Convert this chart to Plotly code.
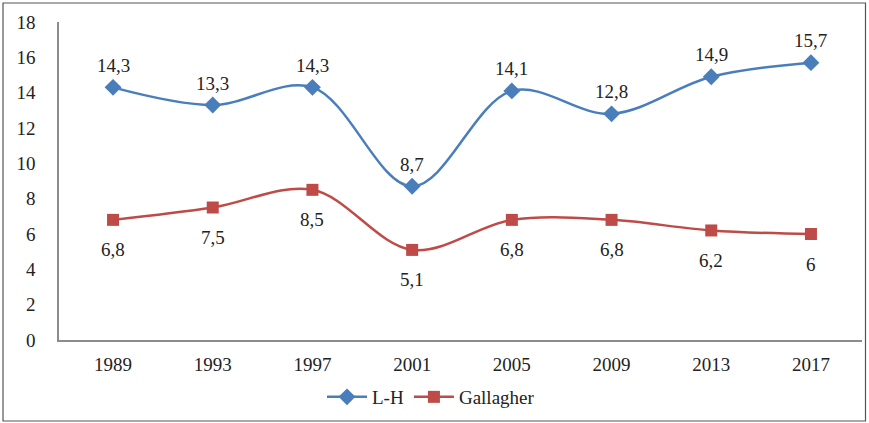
import plotly.graph_objs as go

# Данные
years = ['1989', '1993', '1997', '2001', '2005', '2009', '2013', '2017']
lh = [14.3, 13.3, 14.3, 8.7, 14.1, 12.8, 14.9, 15.7]
gallagher = [6.8, 7.5, 8.5, 5.1, 6.8, 6.8, 6.2, 6]
y_ticks = [0, 2, 4, 6, 8, 10, 12, 14, 16, 18]

FONT = 'Liberation Serif'
FS = 19
BLUE = '#4A7EBB'
RED = '#BE4B48'


def fmt(v):
    return ('%g' % v).replace('.', ',')


W, H = 869, 423
ml, mr, mt, mb = 59, 7, 22, 83
pw, ph = W - ml - mr, H - mt - mb

fig = go.Figure()
fig.add_trace(go.Scatter(
    x=years, y=lh, name='L-H', mode='lines+markers',
    line=dict(color=BLUE, width=2.5, shape='spline', smoothing=1),
    marker=dict(symbol='diamond', size=13, color=BLUE)
))
fig.add_trace(go.Scatter(
    x=years, y=gallagher, name='Gallagher', mode='lines+markers',
    line=dict(color=RED, width=2.5, shape='spline', smoothing=1),
    marker=dict(symbol='square', size=12, color=RED)
))

# Подписи значений (x — номер категории)
for i, v in enumerate(lh):
    fig.add_annotation(x=i, y=v, text=fmt(v), showarrow=False, yshift=22,
                       font=dict(family=FONT, size=FS, color='#222'))
for i, v in enumerate(gallagher):
    fig.add_annotation(x=i, y=v, text=fmt(v), showarrow=False, yshift=-30,
                       font=dict(family=FONT, size=FS, color='#222'))

# Рамка вокруг всего графика
fig.add_shape(type='rect', xref='paper', yref='paper',
              x0=(3 - ml) / pw, x1=(865.5 - ml) / pw,
              y0=(mt + ph - 421) / ph, y1=1 + (mt - 3) / ph,
              line=dict(color='#555', width=1.2))

fig.update_layout(
    width=W, height=H,
    margin=dict(l=ml, r=mr, t=mt, b=mb),
    paper_bgcolor='white', plot_bgcolor='white',
    font=dict(family=FONT, size=FS, color='#222'),
    showlegend=True,
    legend=dict(orientation='h', x=(431 - ml) / pw, xanchor='center',
                y=-(397 - mt - ph) / ph, yanchor='middle',
                font=dict(family=FONT, size=FS), itemwidth=40),
    xaxis=dict(type='category', range=[-0.542, 7.512], showgrid=False,
               showline=True, linecolor='#8C8C8C', linewidth=1.5,
               ticks='', ticklabelstandoff=6, zeroline=False),
    yaxis=dict(range=[0, 18], tickvals=y_ticks, showgrid=False,
               showline=True, linecolor='#8C8C8C', linewidth=1.5,
               ticks='', ticklabelstandoff=18, zeroline=False),
)

fig.write_html("out.html", config={'displayModeBar': False},
               post_script="document.body.style.margin='0';")
